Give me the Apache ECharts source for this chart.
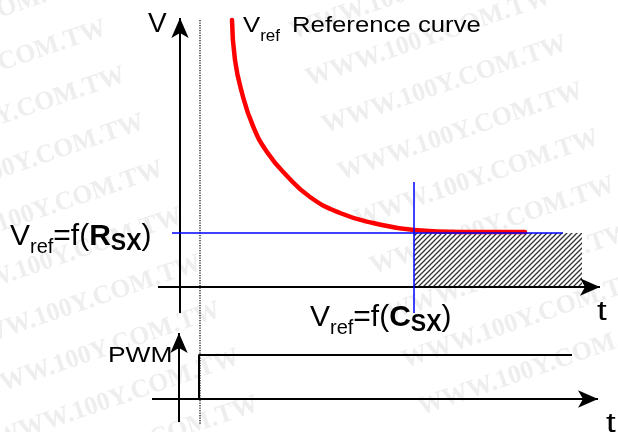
<!DOCTYPE html>
<html>
<head>
<meta charset="utf-8">
<style>
  html, body { margin: 0; padding: 0; background: #fff; }
  #chart { width: 618px; height: 432px; }
</style>
<script src="https://cdn.jsdelivr.net/npm/echarts@6/dist/echarts.min.js"></script>
</head>
<body>
<div id="chart"></div>
<script>
// coordinates: t along the time axis, V up from the t axis (PWM panel sits at negative V)
// reference curve
const curveT = [52, 55, 62, 73, 87, 107, 130, 160, 193, 234, 280, 345];
const curveV = [267, 227, 194, 161, 135, 111, 90, 74, 64, 57, 55, 55];

// Vref = f(Rsx) level and Vref = f(Csx) instant
const vrefLevel = 54;
const levelT = [-8, 383];
const csxT = 234;
const csxV = [-26, 105];
const hatchEndT = 402;

// PWM trace
const pwmT = [19, 19, 392];
const pwmV = [-112, -68, -68];

// axes [x1, y1, x2, y2]
const axesLines = [
  [0, -26, 0, 269],      // V axis
  [-22, 0, 420, 0],      // t axis (top)
  [-1, -135, -1, -46],   // PWM axis
  [-28, -112, 418, -112] // t axis (bottom)
];
const dottedT = 20;
const dottedV = [267, -138];

const chart = echarts.init(document.getElementById("chart"));

// 斜线填充
const hatch = document.createElement("canvas");
hatch.width = 5;
hatch.height = 5;
const hc = hatch.getContext("2d");
hc.fillStyle = "#fff";
hc.fillRect(0, 0, 5, 5);
hc.strokeStyle = "#333";
hc.lineWidth = 1.3;
hc.beginPath();
hc.moveTo(-1, 6); hc.lineTo(6, -1);
hc.moveTo(-1, 1); hc.lineTo(1, -1);
hc.moveTo(4, 6); hc.lineTo(6, 4);
hc.stroke();

function pairs(xs, ys) {
  return xs.map(function (x, i) { return [x, ys[i]]; });
}

// 文字：一串连续的片段，用 measureText 排位置
const measure = document.createElement("canvas").getContext("2d");
const FONT = '"Liberation Sans", Arial, sans-serif';
function runs(x, base, parts) {
  let cx = x;
  return parts.map(function (p) {
    const size = p[1];
    const bold = p[2];
    const dy = p[3] || 0;
    const sx = p[4] || 1;
    if (p[5] !== undefined) cx = p[5];
    measure.font = (bold ? "bold " : "") + size + "px " + FONT;
    const w = measure.measureText(p[0]).width * sx;
    const el = {
      type: "text",
      x: cx,
      y: base + dy - 0.31 * size,
      scaleX: sx,
      z: 10,
      style: {
        text: p[0],
        x: 0,
        y: 0,
        fontSize: size,
        fontFamily: FONT,
        fontWeight: bold ? "bold" : "normal",
        fill: "#000",
        align: "left",
        verticalAlign: "middle"
      }
    };
    cx += w;
    return el;
  });
}

// 水印
const marks = [];
for (let k = -1; k < 9; k++) {
  marks.push({
    type: "text", x: 110 + 19 * k, y: 40 + 47 * k, rotation: 0.33, z: 0,
    style: { text: "WWW.100Y.COM.TW", x: 0, y: 0, align: "right", verticalAlign: "bottom",
      fontSize: 26, fontWeight: "bold", fontFamily: "Liberation Serif, serif", fill: "#eeeeee" }
  });
  marks.push({
    type: "text", x: 295 + 16 * k, y: 45 + 47 * k, rotation: 0.33, z: 0,
    style: { text: "WWW.100Y.COM.TW", x: 0, y: 0, align: "left", verticalAlign: "bottom",
      fontSize: 26, fontWeight: "bold", fontFamily: "Liberation Serif, serif", fill: "#eeeeee" }
  });
}

const labels = [].concat(
  runs(148, 33, [["V", 28]]),
  runs(243, 33, [["V", 22, false, 0, 1.17], ["ref", 17, false, 9], ["Reference curve", 22, false, 0, 1.17, 292]]),
  runs(10, 246, [["V", 30], ["ref", 20, false, 8], ["=f(", 30], ["R", 30, true], ["SX", 23, true, 5], [")", 30]]),
  runs(310, 327, [["V", 30], ["ref", 20, false, 8], ["=f(", 30], ["C", 30, true], ["SX", 23, true, 5], [")", 30]]),
  runs(108, 363, [["PWM", 22, false, 0, 1.2]]),
  runs(597, 321, [["t", 27, false, 0, 1.3]]),
  runs(606, 433, [["t", 27, false, 0, 1.3]])
);

const option = {
  animation: false,
  backgroundColor: "#fff",
  grid: { left: 0, right: 0, top: 0, bottom: 0 },
  xAxis: { type: "value", min: -180, max: 438, show: false },
  yAxis: { type: "value", min: -145, max: 287, show: false },
  graphic: { elements: marks.concat(labels) },
  series: [
    {
      type: "line",
      name: "hatch",
      data: [],
      silent: true,
      z: 3,
      markArea: {
        silent: true,
        itemStyle: { color: { image: hatch, repeat: "repeat" } },
        data: [[{ coord: [csxT, 0] }, { coord: [hatchEndT, vrefLevel] }]]
      }
    },
    {
      type: "line",
      name: "dotted",
      data: [[dottedT, dottedV[0]], [dottedT, dottedV[1]]],
      showSymbol: false,
      silent: true,
      z: 3,
      lineStyle: { color: "#000", width: 1.2, type: [1.2, 1.3] }
    },
    {
      type: "line",
      name: "Vref curve",
      data: pairs(curveT, curveV),
      smooth: 0.5,
      showSymbol: false,
      silent: true,
      z: 5,
      lineStyle: { color: "#ff0000", width: 4.5, cap: "round" }
    },
    {
      type: "line",
      name: "Rsx level",
      data: pairs(levelT, [vrefLevel, vrefLevel]),
      showSymbol: false,
      silent: true,
      z: 6,
      lineStyle: { color: "#0000ff", width: 1.5 }
    },
    {
      type: "line",
      name: "Csx",
      data: pairs([csxT, csxT], csxV),
      showSymbol: false,
      silent: true,
      z: 6,
      lineStyle: { color: "#0000ff", width: 1.5 }
    },
    {
      type: "line",
      name: "PWM",
      data: pairs(pwmT, pwmV),
      showSymbol: false,
      silent: true,
      z: 6,
      lineStyle: { color: "#000", width: 2 }
    },
    {
      type: "line",
      name: "axes",
      data: [],
      silent: true,
      z: 7,
      markLine: {
        silent: true,
        symbol: ["none", "arrow"],
        symbolSize: [13, 20],
        label: { show: false },
        itemStyle: { color: "#000" },
        lineStyle: { color: "#000", width: 2, type: "solid" },
        emphasis: { disabled: true },
        data: axesLines.map(function (a) {
          return [{ coord: [a[0], a[1]] }, { coord: [a[2], a[3]] }];
        })
      }
    }
  ]
};
chart.setOption(option);
</script>
</body>
</html>
